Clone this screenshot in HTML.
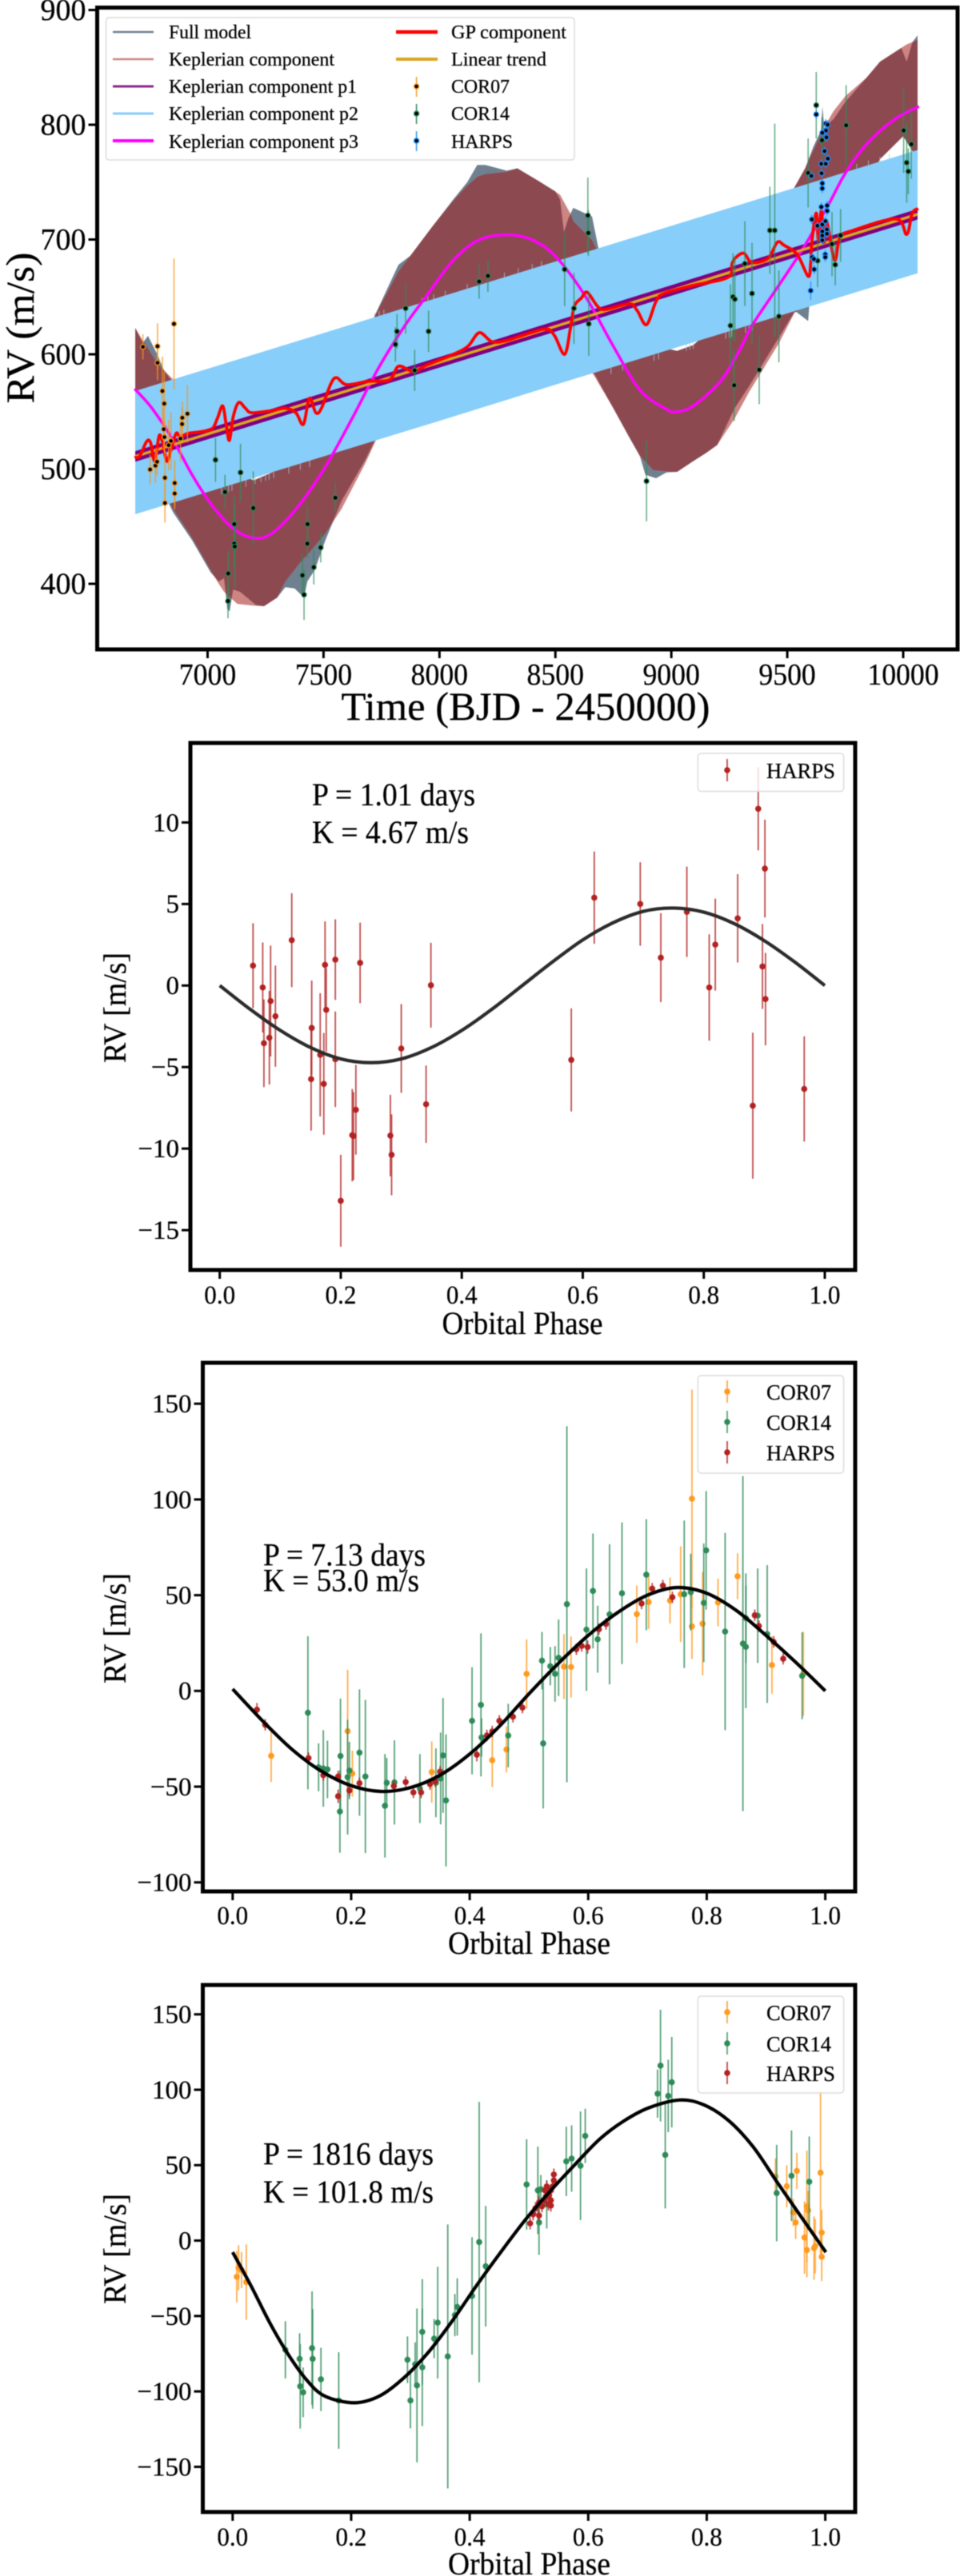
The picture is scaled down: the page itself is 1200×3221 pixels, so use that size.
<!DOCTYPE html>
<html lang="en">
<head>
<meta charset="utf-8">
<title>RV model and phase-folded Keplerian components</title>
<style>
html,body{margin:0;padding:0;background:#fff;}
svg{display:block;filter:blur(0.45px);}
text{font-family:"Liberation Serif",serif;fill:#000;stroke:#000;stroke-width:0.25px;}
</style>
</head>
<body>
<svg id="fig" xmlns="http://www.w3.org/2000/svg" width="1200" height="3221" viewBox="0 0 1200 3221">
  <rect width="1200" height="3221" fill="#fff"/>
  <g id="top"></g>
  <g id="p1"></g>
  <g id="p2"></g>
  <g id="p3"></g>

  <g>
    <text x="657" y="900" font-size="50" text-anchor="middle" textLength="461" lengthAdjust="spacingAndGlyphs">Time (BJD - 2450000)</text>
    <text transform="translate(42,410) rotate(-90)" font-size="50" text-anchor="middle" textLength="189" lengthAdjust="spacingAndGlyphs">RV (m/s)</text>
  </g>

  <g>
    <rect x="132.5" y="22" width="585.5" height="178" rx="4" fill="#fff" fill-opacity="0.85" stroke="#dcdcdc" stroke-width="1.5"/>
    <line x1="141" x2="192" y1="40" y2="40" stroke="#6f8090" stroke-width="2.5"/>
    <text x="211" y="48" font-size="24" textLength="103" lengthAdjust="spacingAndGlyphs">Full model</text>
    <line x1="141" x2="192" y1="74" y2="74" stroke="#cf8585" stroke-width="2.5"/>
    <text x="211" y="82" font-size="24" textLength="207" lengthAdjust="spacingAndGlyphs">Keplerian component</text>
    <line x1="141" x2="192" y1="108" y2="108" stroke="#8e2a8e" stroke-width="3"/>
    <text x="211" y="116" font-size="24" textLength="235" lengthAdjust="spacingAndGlyphs">Keplerian component p1</text>
    <line x1="141" x2="192" y1="142" y2="142" stroke="#87cefa" stroke-width="3"/>
    <text x="211" y="150" font-size="24" textLength="237" lengthAdjust="spacingAndGlyphs">Keplerian component p2</text>
    <line x1="141" x2="192" y1="176" y2="176" stroke="#ff00ff" stroke-width="4"/>
    <text x="211" y="185" font-size="24" textLength="237" lengthAdjust="spacingAndGlyphs">Keplerian component p3</text>
    <line x1="495" x2="547" y1="40" y2="40" stroke="#ff0000" stroke-width="4.5"/>
    <text x="564" y="48" font-size="24" textLength="144" lengthAdjust="spacingAndGlyphs">GP component</text>
    <line x1="495" x2="547" y1="74" y2="74" stroke="#daa520" stroke-width="4"/>
    <text x="564" y="82" font-size="24" textLength="119" lengthAdjust="spacingAndGlyphs">Linear trend</text>
    <line x1="520.6" x2="520.6" y1="96" y2="121" stroke="#f5a033" stroke-width="1.6"/>
    <circle cx="520.6" cy="108" r="3" fill="#000" stroke="#f59a1f" stroke-width="1.4"/>
    <text x="564" y="116" font-size="24" textLength="73" lengthAdjust="spacingAndGlyphs">COR07</text>
    <line x1="520.6" x2="520.6" y1="130" y2="155" stroke="#3c8f64" stroke-width="1.6"/>
    <circle cx="520.6" cy="142" r="3" fill="#000" stroke="#2e8b57" stroke-width="1.4"/>
    <text x="564" y="150" font-size="24" textLength="73" lengthAdjust="spacingAndGlyphs">COR14</text>
    <line x1="520.6" x2="520.6" y1="164" y2="189" stroke="#3d9be9" stroke-width="1.6"/>
    <circle cx="520.6" cy="176" r="3" fill="#000" stroke="#1e90ff" stroke-width="1.4"/>
    <text x="564" y="185" font-size="24" textLength="77" lengthAdjust="spacingAndGlyphs">HARPS</text>
  </g>

  <g>
    <text x="653" y="1668" font-size="40" text-anchor="middle" textLength="201" lengthAdjust="spacingAndGlyphs">Orbital Phase</text>
    <text transform="translate(157,1260) rotate(-90)" font-size="40" text-anchor="middle" textLength="138" lengthAdjust="spacingAndGlyphs">RV [m/s]</text>
    <text x="390" y="1007" font-size="40" textLength="204" lengthAdjust="spacingAndGlyphs">P = 1.01 days</text>
    <text x="390" y="1054" font-size="40" textLength="196" lengthAdjust="spacingAndGlyphs">K = 4.67 m/s</text>
    <rect x="872.4" y="942" width="182.2" height="47.5" rx="4" fill="#fff" fill-opacity="0.8" stroke="#dcdcdc" stroke-width="1.5"/>
    <line x1="909" x2="909" y1="949" y2="977" stroke="#c8474a" stroke-width="1.8"/>
    <circle cx="909" cy="963" r="3.8" fill="#b22222"/>
    <text x="958" y="973" font-size="27" textLength="86" lengthAdjust="spacingAndGlyphs">HARPS</text>
  </g>

  <g>
    <text x="661.5" y="2443" font-size="40" text-anchor="middle" textLength="203" lengthAdjust="spacingAndGlyphs">Orbital Phase</text>
    <text transform="translate(157,2036) rotate(-90)" font-size="40" text-anchor="middle" textLength="138" lengthAdjust="spacingAndGlyphs">RV [m/s]</text>
    <text x="329" y="1957.5" font-size="40" textLength="203" lengthAdjust="spacingAndGlyphs">P = 7.13 days</text>
    <text x="329" y="1989.5" font-size="40" textLength="195" lengthAdjust="spacingAndGlyphs">K = 53.0 m/s</text>
    <rect x="872.4" y="1720" width="182.2" height="122" rx="4" fill="#fff" fill-opacity="0.8" stroke="#dcdcdc" stroke-width="1.5"/>
    <line x1="909" x2="909" y1="1726" y2="1754" stroke="#f9a94a" stroke-width="1.8"/>
    <circle cx="909" cy="1740" r="3.8" fill="#ff9a1f"/>
    <text x="958" y="1750" font-size="27" textLength="81" lengthAdjust="spacingAndGlyphs">COR07</text>
    <line x1="909" x2="909" y1="1764" y2="1792" stroke="#5aa67f" stroke-width="1.8"/>
    <circle cx="909" cy="1778" r="3.8" fill="#2e8b57"/>
    <text x="958" y="1788" font-size="27" textLength="81" lengthAdjust="spacingAndGlyphs">COR14</text>
    <line x1="909" x2="909" y1="1802" y2="1830" stroke="#c8474a" stroke-width="1.8"/>
    <circle cx="909" cy="1816" r="3.8" fill="#b22222"/>
    <text x="958" y="1826" font-size="27" textLength="86" lengthAdjust="spacingAndGlyphs">HARPS</text>
  </g>

  <g>
    <text x="661.5" y="3219" font-size="40" text-anchor="middle" textLength="203" lengthAdjust="spacingAndGlyphs">Orbital Phase</text>
    <text transform="translate(157,2812) rotate(-90)" font-size="40" text-anchor="middle" textLength="138" lengthAdjust="spacingAndGlyphs">RV [m/s]</text>
    <text x="329" y="2706.5" font-size="40" textLength="213" lengthAdjust="spacingAndGlyphs">P = 1816 days</text>
    <text x="329" y="2754" font-size="40" textLength="213" lengthAdjust="spacingAndGlyphs">K = 101.8 m/s</text>
    <rect x="872.4" y="2496" width="182.2" height="121" rx="4" fill="#fff" fill-opacity="0.8" stroke="#dcdcdc" stroke-width="1.5"/>
    <line x1="909" x2="909" y1="2502" y2="2530" stroke="#f9a94a" stroke-width="1.8"/>
    <circle cx="909" cy="2516" r="3.8" fill="#ff9a1f"/>
    <text x="958" y="2526" font-size="27" textLength="81" lengthAdjust="spacingAndGlyphs">COR07</text>
    <line x1="909" x2="909" y1="2541" y2="2569" stroke="#5aa67f" stroke-width="1.8"/>
    <circle cx="909" cy="2555" r="3.8" fill="#2e8b57"/>
    <text x="958" y="2565" font-size="27" textLength="81" lengthAdjust="spacingAndGlyphs">COR14</text>
    <line x1="909" x2="909" y1="2578" y2="2606" stroke="#c8474a" stroke-width="1.8"/>
    <circle cx="909" cy="2592" r="3.8" fill="#b22222"/>
    <text x="958" y="2602" font-size="27" textLength="86" lengthAdjust="spacingAndGlyphs">HARPS</text>
  </g>
</svg>

<script>
/* ===== TOP CHART DATA ===== */
const topXTicks = [7000, 7500, 8000, 8500, 9000, 9500, 10000];
const topYTicks = [400, 500, 600, 700, 800, 900];

const trendT = [6688, 10062];
const trendV = [511, 722];
const p1HalfWidth = [4.6];

const p2T = [6688, 7000, 7500, 8000, 8500, 9000, 9500, 10062];
const p2Upper = [568, 587.4, 618.5, 649.7, 680.8, 711.9, 743, 778];
const p2Lower = [460.6, 480, 511, 542, 573.5, 604.5, 635.6, 670.6];
const p2LowerTeethT = [7060, 7075, 7090, 7105, 7165, 7205, 7230, 7250, 7265, 7285, 7350, 7400, 7440, 8740, 8790, 8800, 8925, 8945, 9065, 9080, 9095, 9235, 9250, 9260, 9320, 9335, 9350];
const p2UpperTeethT = [7720, 7740, 7760, 7925, 7950, 7975, 8025, 8120, 8280, 8340, 8400, 8440, 9800, 9850, 9900, 9940, 10000];

const p3T = [6685, 6760, 6852, 6933, 7013, 7105, 7197, 7278, 7393, 7508, 7623, 7737, 7851, 7945, 8060, 8175, 8313, 8427, 8520, 8634, 8750, 8864, 8979, 9025, 9095, 9210, 9290, 9348, 9440, 9555, 9670, 9751, 9842, 9958, 10068];
const p3V = [570, 553, 525, 495, 470, 449, 440, 444, 468, 502, 544, 588, 625, 651, 682, 700, 704, 697, 681, 649, 607, 569, 552, 550, 555, 576, 602, 625, 653, 688, 727.5, 758, 783, 804, 816];

const gpT = [6685, 6708, 6737, 6754, 6772, 6791, 6806, 6823, 6838, 6864, 6881, 6915, 6967, 7019, 7042, 7065, 7080, 7094, 7111, 7134, 7163, 7191, 7278, 7335, 7381, 7413, 7439, 7467, 7491, 7531, 7556, 7600, 7692, 7784, 7824, 7887, 7945, 8060, 8123, 8172, 8226, 8290, 8382, 8462, 8497, 8540, 8565, 8582, 8612, 8637, 8681, 8715, 8819, 8853, 8893, 8934, 8968, 9095, 9244, 9262, 9279, 9313, 9348, 9417, 9457, 9486, 9543, 9590, 9601, 9607, 9625, 9634, 9647, 9658, 9670, 9704, 9728, 9785, 9969, 10015, 10039, 10065];
const gpV = [510, 511.5, 524, 523, 507, 529, 523, 507, 514, 531, 528, 531, 532.4, 535, 544, 555, 539, 525, 546, 558, 553, 549, 551, 553, 549, 539, 561.6, 549, 553, 574, 579.6, 573.5, 576.5, 577.7, 589.6, 585, 590.5, 600, 607, 618.8, 611, 612, 618, 622, 616, 600, 623, 642, 649, 654, 642, 639, 644, 638, 625.8, 646, 653, 660, 667, 679, 684.5, 688, 680, 683.6, 697.6, 695, 687, 668, 679, 700, 723, 700, 725, 697.5, 716, 682, 702, 708, 718, 704.5, 723, 727];

const fullUpperT = [6688, 6720, 6743, 6783, 6812, 6852, 6933, 7013, 7105, 7197, 7278, 7393, 7508, 7623, 7717, 7823, 7875, 7968, 8060, 8120, 8163, 8198, 8290, 8336, 8427, 8500, 8520, 8537, 8555, 8577, 8658, 8685, 8750, 8864, 8979, 9025, 9095, 9210, 9290, 9348, 9440, 9527, 9577, 9613, 9645, 9652, 9660, 9671, 9700, 9751, 9842, 9900, 9992, 10015, 10040, 10062];
const fullUpperV = [623, 610, 616, 600, 586, 575, 548, 523, 502, 490, 497, 521, 555, 597, 632, 678, 686, 711, 735, 750, 765, 765, 760, 762, 751, 742, 735, 706.6, 718, 727.6, 720, 693, 660, 622, 605, 603, 608, 629, 655, 678, 706, 744, 762, 781, 795, 816, 795, 800, 805, 820, 841, 855, 867, 855, 872, 878];
const fullLowerT = [6688, 6760, 6852, 6933, 7013, 7048, 7071, 7085, 7095, 7110, 7140, 7209, 7243, 7300, 7335, 7375, 7416, 7430, 7462, 7508, 7577, 7680, 7726, 7800, 7968, 8100, 8300, 8500, 8600, 8668, 8750, 8818, 8865, 8888, 8934, 8979, 9025, 9095, 9150, 9198, 9273, 9335, 9462, 9531, 9538, 9590, 9596, 9700, 9800, 9900, 10000, 10062];
const fullLowerV = [517, 500, 462, 438, 410, 402, 405, 378, 376, 395, 393, 381.5, 380.5, 388, 397, 396, 388, 402, 412, 438, 472, 508, 527, 560, 600, 635, 651, 628, 600, 583, 553, 528, 511, 495, 492, 497, 497.6, 507, 514, 521, 553, 572, 614, 637, 637, 629, 645, 690, 730, 770, 790, 770];

const kepUpperT = [6688, 6720, 6740, 6783, 6852, 6933, 7013, 7105, 7197, 7278, 7393, 7508, 7623, 7717, 7823, 7875, 7968, 8060, 8120, 8166, 8198, 8290, 8336, 8427, 8520, 8566, 8577, 8658, 8681, 8750, 8864, 8979, 9025, 9095, 9210, 9290, 9348, 9440, 9527, 9577, 9625, 9671, 9700, 9751, 9842, 9900, 9992, 10015, 10040, 10062];
const kepUpperV = [623, 612, 606, 592, 578, 548, 523, 502, 490, 497, 521, 555, 597, 632, 672, 686, 711, 734, 747, 755, 757, 759, 762, 751, 739, 722, 716, 699.6, 690, 660, 622, 605, 603, 608, 629, 655, 678, 706, 744, 762, 783, 802, 812, 825, 841, 855, 867, 870, 872, 874];
const kepLowerT = [6688, 6760, 6852, 6933, 7013, 7048, 7071, 7128, 7197, 7243, 7300, 7335, 7393, 7450, 7508, 7577, 7680, 7726, 7800, 7968, 8100, 8300, 8500, 8600, 8668, 8750, 8818, 8865, 8922, 8979, 9025, 9095, 9150, 9198, 9273, 9335, 9462, 9531, 9590, 9700, 9800, 9900, 10000, 10062];
const kepLowerV = [517, 500, 465, 440, 412, 400, 393, 382.5, 381, 380.5, 388, 402, 417, 430, 444, 465, 505, 525, 560, 600, 635, 651, 628, 600, 581, 553, 528, 511.5, 499, 498, 497.6, 507, 514, 521, 544, 567, 609, 636, 645, 690, 730, 770, 790, 770];

const topC07T = [6721, 6784, 6784, 6855, 6805, 6813, 6811, 6814, 6832, 6842, 6883, 6890, 6891, 6913, 6752, 6775, 6782, 6816, 6858, 6858, 6816];
const topC07V = [606.5, 607, 592.6, 626.5, 568, 557, 534.7, 527.8, 520.8, 524.5, 526.6, 539.2, 544.7, 548.2, 499.6, 503, 506.4, 492.4, 487.8, 478.7, 470.4];
const topC07E = [11, 20, 15, 57, 30, 28, 18, 14, 22, 25, 20, 14, 14, 25, 13, 15, 12, 24, 20, 14, 17];

const topC14T = [7034, 7075, 7142, 7197, 7115, 7115, 7117, 7089, 7088, 7409, 7416, 7431, 7430, 7458, 7488, 7551, 7810, 7817, 7854, 7953, 7893, 8171, 8209, 8540, 8580, 8640, 8642, 8644, 8893, 9255, 9266, 9274, 9317, 9348, 9425, 9446, 9464, 9379, 9271, 9590, 9625, 9754, 9650, 9631, 9693, 9707, 9730, 10002, 10015, 10022, 10035];
const topC14V = [508, 480, 497, 466, 452, 435, 432.5, 409, 385, 407.4, 390.5, 452, 435, 414.4, 431.6, 475, 608.6, 620, 640, 620, 586, 663.4, 668.3, 674, 640, 721, 705.7, 626.5, 489.5, 625, 650, 648, 679, 653, 708, 708, 633, 586.5, 573, 758, 817, 799.5, 786.5, 681.5, 696, 678, 703.6, 795, 767, 759.4, 783];
const topC14E = [19, 15, 25, 32, 25, 20, 36, 20, 15, 18, 22, 15, 12, 15, 13, 13, 15, 15, 22, 18, 18, 15, 14, 32, 31, 33, 20, 28, 35, 36, 38, 37, 37, 44, 38, 93, 40, 30, 31, 30, 29, 35, 20, 23, 28, 18, 23, 37, 35, 20, 30];

const topHarpsT = [9625, 9666, 9674, 9667, 9651, 9669, 9661, 9675, 9647, 9666, 9648, 9604, 9651, 9651, 9647, 9672, 9672, 9606, 9665, 9630, 9651, 9671, 9651, 9651, 9651, 9671, 9607, 9615, 9664, 9664, 9616, 9601];
const topHarpsV = [809, 801, 800, 795, 793, 789, 777, 770.5, 766, 766, 757.7, 755.4, 749, 744.5, 728.4, 729.6, 725, 717.5, 716, 712, 713, 708.7, 707, 703.4, 699.4, 705, 684.6, 683, 687, 684.6, 674, 655.5];
const topHarpsE = [4, 4, 4, 4, 4, 4, 4, 4, 4, 4, 4, 4, 4, 4, 4, 4, 4, 4, 4, 4, 4, 4, 4, 4, 4, 4, 4, 4, 4, 4, 4, 8];

/* ===== PHASE PLOT 1 (P = 1.01 d) DATA ===== */
const phaseTicks = [0, 0.2, 0.4, 0.6, 0.8, 1];
const phaseTickLabels = ['0.0', '0.2', '0.4', '0.6', '0.8', '1.0'];
const a1YTicks = [10, 5, 0, -5, -10, -15];
const a1ModelP = [0, 0.05, 0.1, 0.15, 0.2, 0.25, 0.3, 0.35, 0.4, 0.45, 0.5, 0.55, 0.6, 0.65, 0.7, 0.75, 0.8, 0.85, 0.9, 0.95, 1];
const a1ModelV = [0, -1.45, -2.75, -3.8, -4.5, -4.73, -4.5, -3.8, -2.75, -1.45, 0, 1.45, 2.8, 3.85, 4.55, 4.75, 4.5, 3.8, 2.75, 1.45, 0];
const a1HarpsP = [0.055, 0.071, 0.073, 0.082, 0.084, 0.092, 0.119, 0.151, 0.152, 0.166, 0.172, 0.174, 0.176, 0.191, 0.191, 0.2, 0.219, 0.221, 0.225, 0.232, 0.282, 0.284, 0.3, 0.341, 0.349, 0.581, 0.619, 0.695, 0.729, 0.772, 0.809, 0.819, 0.856, 0.881, 0.89, 0.897, 0.901, 0.902, 0.966];
const a1HarpsV = [1.22, -0.12, -3.54, -3.2, -0.95, -1.88, 2.78, -5.74, -2.6, -4.25, -6.03, 1.27, -1.49, 1.59, -4.52, -13.2, -9.18, -9.23, -7.62, 1.39, -9.2, -10.38, -3.86, -7.28, 0.02, -4.56, 5.39, 5, 1.71, 4.52, -0.12, 2.51, 4.12, -7.37, 10.84, 1.17, 7.17, -0.83, -6.34];
const a1HarpsE = [2.6, 2.76, 2.69, 2.87, 3.4, 3.1, 2.88, 3.16, 2.9, 3.78, 3.12, 2.66, 2.56, 2.47, 2.93, 2.82, 2.83, 2.7, 2.75, 2.47, 2.5, 2.48, 2.72, 2.37, 2.6, 3.16, 2.83, 2.56, 2.73, 2.77, 3.26, 2.82, 2.71, 4.48, 2.55, 2.6, 3, 2.84, 3.23];

/* ===== PHASE PLOT 2 (P = 7.13 d) DATA ===== */
const a2YTicks = [150, 100, 50, 0, -50, -100];
const a2ModelP = [0, 0.05, 0.1, 0.15, 0.2, 0.25, 0.3, 0.35, 0.4, 0.45, 0.5, 0.55, 0.6, 0.65, 0.7, 0.75, 0.8, 0.85, 0.9, 0.95, 1];
const a2ModelV = [1, -15.5, -30.5, -42, -49.5, -52.5, -50.5, -44, -33, -18.5, -1.5, 14.5, 29, 41, 50, 54, 51, 42, 29, 15, 0];
const a2C07P = [0.065, 0.194, 0.202, 0.336, 0.438, 0.462, 0.496, 0.559, 0.571, 0.682, 0.702, 0.738, 0.756, 0.775, 0.775, 0.793, 0.819, 0.852, 0.91, 0.963];
const a2C07V = [-33.9, -21, -43.2, -42.4, -36.2, -30.6, 8.9, 12.7, 12.5, 40.1, 46.4, 47.2, 50.5, 100.4, 33.7, 35.1, 46.2, 59.9, 13.5, 8.9];
const a2C07E = [13.7, 32, 12, 16, 14, 12, 18, 17, 16, 15, 14, 12, 25, 57, 17, 27, 12.5, 12, 15, 22];
const a2C14P = [0.127, 0.145, 0.153, 0.16, 0.181, 0.182, 0.194, 0.197, 0.214, 0.224, 0.257, 0.26, 0.273, 0.316, 0.343, 0.351, 0.355, 0.36, 0.404, 0.419, 0.42, 0.465, 0.522, 0.524, 0.536, 0.544, 0.55, 0.564, 0.597, 0.608, 0.616, 0.636, 0.657, 0.698, 0.762, 0.773, 0.795, 0.799, 0.831, 0.861, 0.866, 0.866, 0.886, 0.902, 0.961];
const a2C14V = [-11.4, -39.9, -40.5, -41, -63, -34, -45, -41.6, -32.2, -44.7, -60, -48, -47.8, -51, -48, -45.7, -33.7, -57.2, -15.6, -7.3, -24.3, -23.3, 15.8, -27.4, 12.9, 8.9, 17.3, 45.3, 32, 52.2, 27, 40, 51, 60.7, 50.5, 51.6, 46, 73.4, 31, 24.7, 38, 23, 39.3, 29.7, 7.9];
const a2C14E = [40, 12.5, 20, 15, 21.5, 30, 30, 15, 33, 40, 27, 13, 22, 18, 18, 24, 30, 34.5, 28, 37.4, 10, 16.6, 15, 34, 10, 14.5, 20, 93, 32, 30, 17.5, 36.6, 37, 29, 38.5, 20, 31, 31, 51.5, 87.5, 23.4, 32, 24.7, 36, 22.7];
const a2HarpsP = [0.041, 0.055, 0.128, 0.153, 0.178, 0.178, 0.197, 0.214, 0.272, 0.292, 0.305, 0.318, 0.333, 0.342, 0.35, 0.412, 0.429, 0.438, 0.45, 0.473, 0.489, 0.58, 0.589, 0.599, 0.618, 0.63, 0.69, 0.708, 0.726, 0.742, 0.881, 0.888, 0.913, 0.929];
const a2HarpsV = [-9.8, -17.7, -35.1, -44, -44.7, -55, -52, -48.2, -49.7, -47.6, -53, -53, -48.6, -47.2, -42.2, -33.3, -23.3, -21.2, -15.6, -13.5, -8.7, 21.8, 23.5, 22.9, 32.2, 35, 45.7, 53.4, 55, 48.9, 39.5, 33.9, 25.6, 16.8];
const a2HarpsE = [3.5, 3, 3, 3, 3, 3.5, 3, 3, 3, 3, 3, 3, 3, 3, 3, 3.5, 3, 3, 3, 3, 3, 3, 3, 3.5, 3, 3, 3, 3, 3, 3, 3, 3, 3, 3];

/* ===== PHASE PLOT 3 (P = 1816 d) DATA ===== */
const a3YTicks = [150, 100, 50, 0, -50, -100, -150];
const a3ModelP = [0, 0.031, 0.062, 0.093, 0.124, 0.155, 0.205, 0.248, 0.289, 0.331, 0.372, 0.413, 0.455, 0.496, 0.537, 0.579, 0.62, 0.661, 0.702, 0.754, 0.795, 0.837, 0.878, 0.919, 0.961, 1.001];
const a3ModelV = [-7.7, -30, -54, -75, -92, -103, -107.5, -103, -91, -73.7, -52.5, -29, -6.3, 14.8, 33.3, 51, 67.5, 79.5, 88, 93.2, 90, 79.5, 62.3, 38.6, 14.8, -7.7];
const a3C07P = [0.007, 0.01, 0.015, 0.023, 0.916, 0.935, 0.952, 0.946, 0.95, 0.965, 0.969, 0.969, 0.981, 0.992, 0.994, 0.994, 0.983, 0.971];
const a3C07V = [-24, -18, -19.5, -27.5, 42.5, 36, 46.2, 18.7, 12, 2, 22.7, -6.3, -5, 45, 5.3, -10.8, -3.7, 20];
const a3C07E = [17, 15, 12, 25, 12, 14, 12, 9, 11, 24, 37, 18, 21, 54, 15, 16, 18, 13];
const a3C14P = [0.089, 0.113, 0.114, 0.119, 0.134, 0.135, 0.149, 0.179, 0.295, 0.3, 0.308, 0.311, 0.32, 0.32, 0.34, 0.346, 0.363, 0.375, 0.379, 0.404, 0.416, 0.427, 0.496, 0.515, 0.52, 0.517, 0.53, 0.563, 0.572, 0.587, 0.595, 0.717, 0.722, 0.73, 0.735, 0.741, 0.918, 0.943, 0.973];
const a3C14V = [-72.4, -78.4, -96.6, -100.6, -71.3, -78.4, -92, -106, -79, -106, -82, -96, -60.5, -84, -65, -54.4, -76.8, -49.4, -44, -36.7, -1, -17, 37.2, 33.3, 34, 12, 24, 52.5, 54.4, 49.6, 69.4, 97.4, 116, 56.8, 95.9, 105, 31.5, 43, 39];
const a3C14E = [19, 17, 28, 16.5, 37.6, 33, 21, 32, 15.5, 18.5, 14.5, 51, 35, 39, 13, 37, 87.5, 14, 19, 39, 93, 40, 30, 29, 9.5, 21.5, 16, 23, 22, 36, 18, 16, 37, 35.5, 24, 30, 32, 30, 30];
const a3HarpsP = [0.502, 0.507, 0.517, 0.511, 0.517, 0.525, 0.527, 0.53, 0.533, 0.537, 0.537, 0.54, 0.542, 0.542, 0.53, 0.534, 0.522, 0.537];
const a3HarpsV = [11.4, 17.4, 16.6, 21.4, 25.3, 26.7, 33.3, 29.3, 24, 26.7, 33.3, 35.9, 39.9, 43.8, 35.9, 30.1, 22.7, 23.2];
const a3HarpsE = [4, 4, 4, 4, 4, 4, 4, 4, 4, 4, 4, 4, 4, 4, 4, 4, 4, 4];

/* ===== DRAW HELPERS ===== */
const NS = 'http://www.w3.org/2000/svg';
function make(tag, attrs, parent) {
  const el = document.createElementNS(NS, tag);
  for (const k in attrs) el.setAttribute(k, attrs[k]);
  parent.appendChild(el);
  return el;
}
function f(n) { return n.toFixed(2); }
function smooth(xs, ys, sx, sy) {
  const px = xs.map(sx), py = ys.map(sy);
  let d = 'M' + f(px[0]) + ' ' + f(py[0]);
  for (let i = 0; i < px.length - 1; i++) {
    const i0 = Math.max(0, i - 1), i3 = Math.min(px.length - 1, i + 2);
    const c1x = px[i] + (px[i + 1] - px[i0]) / 6, c1y = py[i] + (py[i + 1] - py[i0]) / 6;
    const c2x = px[i + 1] - (px[i3] - px[i]) / 6, c2y = py[i + 1] - (py[i3] - py[i]) / 6;
    d += 'C' + f(c1x) + ' ' + f(c1y) + ' ' + f(c2x) + ' ' + f(c2y) + ' ' + f(px[i + 1]) + ' ' + f(py[i + 1]);
  }
  return d;
}
function envelope(upT, upV, loT, loV, sx, sy) {
  const pts = [];
  upT.forEach(function (t, i) { pts.push(f(sx(t)) + ',' + f(sy(upV[i]))); });
  for (let i = loT.length - 1; i >= 0; i--) pts.push(f(sx(loT[i])) + ',' + f(sy(loV[i])));
  return pts.join(' ');
}
function interp(xs, ys, x) {
  for (let i = 0; i < xs.length - 1; i++) {
    if (x <= xs[i + 1]) return ys[i] + (ys[i + 1] - ys[i]) * (x - xs[i]) / (xs[i + 1] - xs[i]);
  }
  return ys[ys.length - 1];
}
function drawAxes(parent, box, xVals, xLabels, xPos, yVals, yPos, fontSize, xBase, tickLen) {
  const squeeze = function (el, s) {
    el.setAttribute('textLength', (s.length * 0.5 * fontSize * 0.94 - (s.indexOf('.') >= 0 ? 0.25 * fontSize * 0.94 : 0)).toFixed(1));
    el.setAttribute('lengthAdjust', 'spacingAndGlyphs');
  };
  xVals.forEach(function (v, i) {
    const tick = make('line', {x1: xPos(v), x2: xPos(v), y1: box.bottom, y2: box.bottom + tickLen, stroke: '#000', 'stroke-width': 3}, parent);
    
    
    const lab = make('text', {x: xPos(v), y: xBase, 'font-size': fontSize, 'text-anchor': 'middle'}, parent);
    lab.textContent = xLabels[i];
    squeeze(lab, xLabels[i]);
    
    
  });
  yVals.forEach(function (v) {
    const tick = make('line', {x1: box.left - tickLen, x2: box.left, y1: yPos(v), y2: yPos(v), stroke: '#000', 'stroke-width': 3}, parent);
    
    
    const lab = make('text', {x: box.left - tickLen - 3, y: yPos(v) + fontSize * 0.33, 'font-size': fontSize, 'text-anchor': 'end'}, parent);
    lab.textContent = String(v).replace('-', '\u2212');
    
    
  });
}
function drawFrame(parent, box) {
  const fr = make('rect', {x: box.left, y: box.top, width: box.right - box.left, height: box.bottom - box.top, fill: 'none', stroke: '#000', 'stroke-width': 5}, parent);
  
  
}
function drawPoints(parent, name, xs, ys, es, sx, sy, color, opts) {
  const g = make('g', {}, parent);
  
  
  xs.forEach(function (x, i) {
    const bar = make('line', {x1: sx(x), x2: sx(x), y1: sy(ys[i] + es[i]), y2: sy(ys[i] - es[i]), stroke: color, 'stroke-width': opts.ew, 'stroke-opacity': opts.ea}, g);
    
    
  });
  xs.forEach(function (x, i) {
    const dot = make('circle', {cx: sx(x), cy: sy(ys[i]), r: opts.r, fill: opts.fill || color}, g);
    if (opts.edge) { dot.setAttribute('stroke', color); dot.setAttribute('stroke-width', opts.edge); }
    
    
  });
}

/* ===== TOP CHART ===== */
(function () {
  const g = document.getElementById('top');
  const box = {left: 121.5, right: 1197, top: 9.5, bottom: 812};
  const x = function (t) { return 259.5 + (t - 7000) * 0.28983; };
  const y = function (v) { return 156 + (800 - v) * 1.435; };

  const full = envelope(fullUpperT, fullUpperV, fullLowerT, fullLowerV, x, y);
  const kep = envelope(kepUpperT, kepUpperV, kepLowerT, kepLowerV, x, y);
  const clip = make('clipPath', {id: 'fullClip'}, g);
  make('polygon', {points: full}, clip);

  const fullPoly = make('polygon', {points: full, fill: '#6f8090'}, g);
  
  
  const kepPoly = make('polygon', {points: kep, fill: '#cd8583'}, g);
  
  
  const overlap = make('polygon', {points: kep, fill: '#8c4a50', 'clip-path': 'url(#fullClip)'}, g);
  
  

  const p2Poly = make('polygon', {points: envelope(p2T, p2Upper, p2T, p2Lower, x, y), fill: '#87cefa'}, g);
  
  
  p2LowerTeethT.forEach(function (t) {
    const py = y(interp(p2T, p2Lower, t));
    const tooth = make('line', {x1: x(t), x2: x(t), y1: py, y2: py + 8, stroke: '#a9c7dd', 'stroke-width': 1, 'stroke-opacity': 0.75}, g);
    
    
  });
  p2UpperTeethT.forEach(function (t) {
    const py = y(interp(p2T, p2Upper, t));
    const tooth = make('line', {x1: x(t), x2: x(t), y1: py, y2: py - 6, stroke: '#a9c7dd', 'stroke-width': 1, 'stroke-opacity': 0.75}, g);
    
    
  });

  const hw = p1HalfWidth[0];
  const p1Poly = make('polygon', {points: envelope(trendT, trendV.map(function (v) { return v + hw; }), trendT, trendV.map(function (v) { return v - hw; }), x, y), fill: '#800080'}, g);
  
  

  const p3 = make('path', {d: smooth(p3T, p3V, x, y), fill: 'none', stroke: '#ff00ff', 'stroke-width': 3.5}, g);
  
  

  const trend = make('line', {x1: x(trendT[0]), y1: y(trendV[0]), x2: x(trendT[1]), y2: y(trendV[1]), stroke: '#daa520', 'stroke-width': 3.5}, g);
  
  

  const gp = make('path', {d: smooth(gpT, gpV, x, y), fill: 'none', stroke: '#ff0000', 'stroke-width': 3.8, 'stroke-linejoin': 'round'}, g);
  
  

  drawPoints(g, 'cor14', topC14T, topC14V, topC14E, x, y, '#2e8b57', {r: 3, fill: '#000', edge: 1.2, ew: 1.6, ea: 0.7});
  drawPoints(g, 'cor07', topC07T, topC07V, topC07E, x, y, '#f5941a', {r: 3, fill: '#000', edge: 1.3, ew: 1.6, ea: 0.75});
  drawPoints(g, 'harps', topHarpsT, topHarpsV, topHarpsE, x, y, '#1e90ff', {r: 3, fill: '#000', edge: 1.3, ew: 1.4, ea: 0.8});

  const xLabels = topXTicks.map(String);
  drawAxes(g, box, topXTicks, xLabels, x, topYTicks, y, 38, 856, 11);
  drawFrame(g, box);
})();

/* ===== PHASE PLOTS ===== */
function phasePlot(id, box, x0, x1, yZero, yPerUnit, yTicks, tickBase, series, modelP, modelV, modelStroke) {
  const g = document.getElementById(id);
  const x = function (p) { return x0 + p * (x1 - x0); };
  const y = function (v) { return yZero - v * yPerUnit; };
  series.forEach(function (s) {
    drawPoints(g, s.name, s.xs, s.ys, s.es, x, y, s.color, {r: 3.8, ew: 1.8, ea: 0.8});
  });
  const curve = make('path', {d: smooth(modelP, modelV, x, y), fill: 'none', stroke: modelStroke, 'stroke-width': 4.2}, g);
  
  
  drawAxes(g, box, phaseTicks, phaseTickLabels, x, yTicks, y, 33, tickBase, 11);
  drawFrame(g, box);
}
phasePlot('p1', {left: 238, right: 1069, top: 929, bottom: 1588}, 274.7, 1031, 1232.3, 20.39, a1YTicks, 1630,
  [{name: 'harps', xs: a1HarpsP, ys: a1HarpsV, es: a1HarpsE, color: '#b22222'}], a1ModelP, a1ModelV, '#2b2b2b');
phasePlot('p2', {left: 253.5, right: 1069, top: 1704, bottom: 2365}, 290.8, 1031.6, 2114.3, 2.394, a2YTicks, 2406,
  [{name: 'cor07', xs: a2C07P, ys: a2C07V, es: a2C07E, color: '#ff9a1f'},
   {name: 'cor14', xs: a2C14P, ys: a2C14V, es: a2C14E, color: '#2e8b57'},
   {name: 'harps', xs: a2HarpsP, ys: a2HarpsV, es: a2HarpsE, color: '#b22222'}], a2ModelP, a2ModelV, '#000');
phasePlot('p3', {left: 253.5, right: 1069, top: 2482, bottom: 3141}, 290.8, 1031.6, 2801.6, 1.886, a3YTicks, 3183,
  [{name: 'cor07', xs: a3C07P, ys: a3C07V, es: a3C07E, color: '#ff9a1f'},
   {name: 'cor14', xs: a3C14P, ys: a3C14V, es: a3C14E, color: '#2e8b57'},
   {name: 'harps', xs: a3HarpsP, ys: a3HarpsV, es: a3HarpsE, color: '#b22222'}], a3ModelP, a3ModelV, '#000');
</script>
</body>
</html>
